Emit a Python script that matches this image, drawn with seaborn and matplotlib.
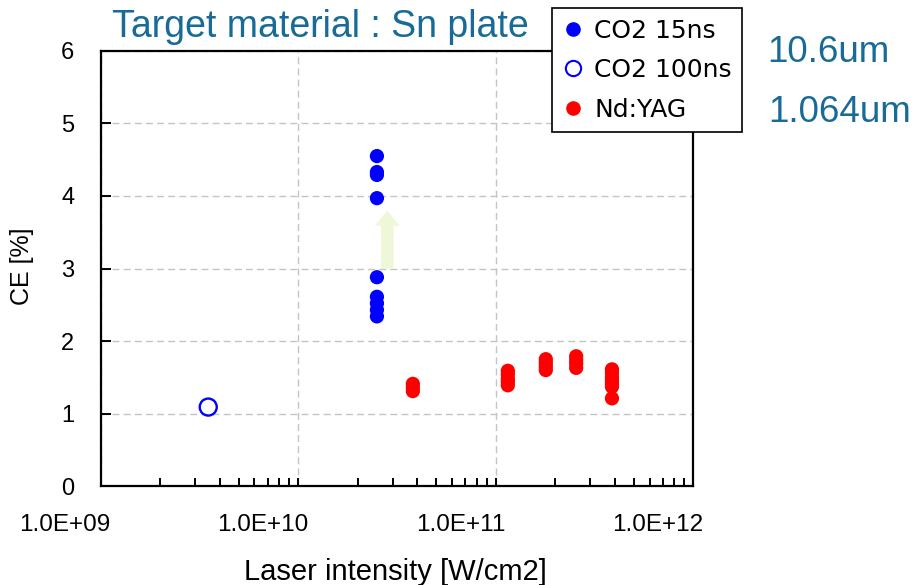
import matplotlib
matplotlib.use("Agg")
import matplotlib.pyplot as plt
from matplotlib.lines import Line2D
from matplotlib.transforms import ScaledTranslation
from matplotlib.ticker import LogLocator, FuncFormatter, NullFormatter
import numpy as np
import pandas as pd
import seaborn as sns

# CO2 laser, 15 ns pulses
co2_15_intensity = [2.5e10] * 9
co2_15_ce = [4.55, 4.33, 4.29, 3.97, 2.88, 2.61, 2.52, 2.43, 2.34]

# CO2 laser, 100 ns pulse
co2_100_intensity = [3.5e9]
co2_100_ce = [1.09]

# Nd:YAG laser
yag_intensity = ([3.8e10] * 3 + [1.15e11] * 5 + [1.79e11] * 4
                 + [2.55e11] * 4 + [3.87e11] * 7)
yag_ce = [1.41, 1.36, 1.31,
          1.59, 1.54, 1.48, 1.44, 1.39,
          1.75, 1.70, 1.65, 1.60,
          1.79, 1.74, 1.69, 1.63,
          1.61, 1.56, 1.50, 1.45, 1.41, 1.37, 1.21]

series_labels = ["CO2 15ns", "CO2 100ns", "Nd:YAG"]
y_ticks = [0, 1, 2, 3, 4, 5, 6]
x_ticks = [1e9, 1e10, 1e11, 1e12]

title_text = "Target material : Sn plate"
wavelength_co2 = "10.6um"
wavelength_yag = "1.064um"

teal = "#186b96"
blue = "#0000ff"
red = "#ff0000"

sns.set_theme(style="white", rc={
    "text.color": "black", "axes.labelcolor": "black",
    "xtick.color": "black", "ytick.color": "black",
})
plt.rcParams["font.family"] = ["Liberation Sans", "DejaVu Sans"]

filled = pd.DataFrame({
    "intensity": co2_15_intensity + yag_intensity,
    "ce": co2_15_ce + yag_ce,
    "laser": [series_labels[0]] * len(co2_15_ce) + [series_labels[2]] * len(yag_ce),
})
hollow = pd.DataFrame({"intensity": co2_100_intensity, "ce": co2_100_ce})

fig = plt.figure(figsize=(9.16, 5.85), dpi=100)
ax = fig.add_axes([0.110, 0.169, 0.647, 0.744])

sns.scatterplot(data=filled, x="intensity", y="ce", hue="laser",
                palette={series_labels[0]: blue, series_labels[2]: red},
                s=105, linewidth=0, ax=ax, legend=False, zorder=3)
sns.scatterplot(data=hollow, x="intensity", y="ce", s=150,
                facecolor="none", edgecolor=blue, linewidth=1.7,
                ax=ax, legend=False, zorder=3)

ax.set_xscale("log")
ax.set_xlim(1e9, 1e12)
ax.set_ylim(0, 6)
ax.set_yticks(y_ticks)
ax.set_xticks(x_ticks)
ax.xaxis.set_minor_locator(LogLocator(base=10, subs=np.arange(2, 10)))
ax.xaxis.set_minor_formatter(NullFormatter())
ax.xaxis.set_major_formatter(FuncFormatter(lambda v, p: f"{v:.1E}"))

ax.grid(True, which="major", color="#c4c4c4", linestyle=(0, (5, 3)), linewidth=1.0)
ax.set_axisbelow(True)

for side in ["left", "bottom", "top", "right"]:
    ax.spines[side].set_visible(True)
    ax.spines[side].set_color("black")
    ax.spines[side].set_linewidth(1.6)

ax.tick_params(axis="x", which="both", direction="in", length=6, width=1.4,
               color="black", labelcolor="black", pad=20, labelsize=17.5,
               bottom=True, top=False)
ax.tick_params(axis="y", which="major", direction="in", length=7, width=1.4,
               color="black", labelcolor="black", pad=19, labelsize=17,
               left=True, right=False)

# x tick labels sit just left of their tick, ending slightly past it
shift = ScaledTranslation(10 / 100, 0, fig.dpi_scale_trans)
for lab in ax.get_xticklabels():
    lab.set_horizontalalignment("right")
    lab.set_transform(lab.get_transform() + shift)

ax.set_xlabel("Laser intensity [W/cm2]", fontsize=21, color="black")
ax.set_ylabel("CE [%]", fontsize=18, color="black")
ax.xaxis.set_label_coords(0.497, -0.166)
ax.yaxis.set_label_coords(-0.113, 0.505)

# Upward arrow marking the CE gain of the short-pulse CO2 shots
ax.annotate("", xy=(2.82e10, 3.8), xytext=(2.82e10, 3.0),
            arrowprops=dict(arrowstyle="simple,head_width=18,head_length=11,tail_width=9",
                            mutation_scale=1, color="#eef7d8", ec="none",
                            shrinkA=0, shrinkB=0), zorder=2)

fig.text(0.350, 0.953, title_text, color=teal, fontsize=27, ha="center", va="center")
fig.text(0.9045, 0.910, wavelength_co2, color=teal, fontsize=26.5, ha="center", va="center")
fig.text(0.917, 0.808, wavelength_yag, color=teal, fontsize=26.5, ha="center", va="center")

handles = [
    Line2D([], [], linestyle="none", marker="o", markersize=9.5,
           markerfacecolor=blue, markeredgecolor=blue),
    Line2D([], [], linestyle="none", marker="o", markersize=11,
           markerfacecolor="none", markeredgecolor=blue, markeredgewidth=1.5),
    Line2D([], [], linestyle="none", marker="o", markersize=9.5,
           markerfacecolor=red, markeredgecolor=red),
]
leg = fig.legend(handles, series_labels, loc="upper left",
                 bbox_to_anchor=(0.603, 0.986), borderaxespad=0,
                 frameon=True, fancybox=False, shadow=False,
                 prop={"family": ["DejaVu Sans"], "size": 18},
                 handlelength=0.8, handletextpad=0.45, labelspacing=0.62,
                 borderpad=0.42)
for t in leg.get_texts():
    t.set_color("black")
leg.get_frame().set_edgecolor("black")
leg.get_frame().set_linewidth(1.2)
leg.get_frame().set_facecolor("white")
leg.get_frame().set_alpha(1)

fig.savefig("out.png", dpi=100)
